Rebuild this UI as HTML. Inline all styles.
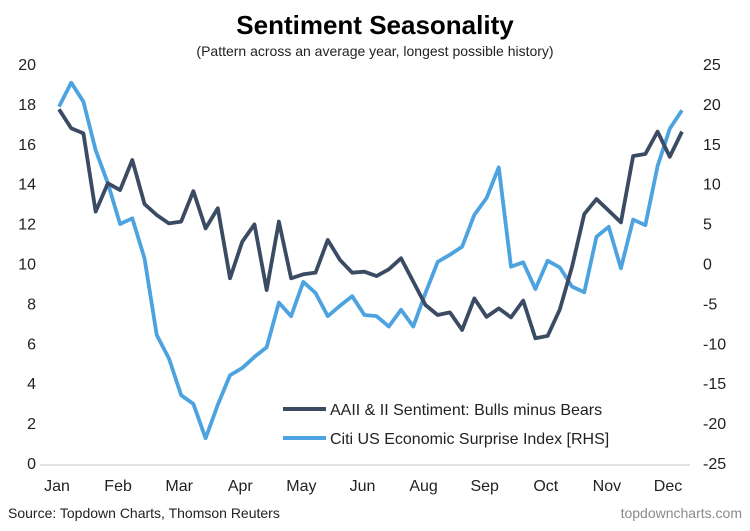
<!DOCTYPE html>
<html><head><meta charset="utf-8"><style>
body{margin:0;background:#fff;width:750px;height:531px;overflow:hidden}
svg{display:block;font-family:"Liberation Sans",Arial,sans-serif}
</style></head><body>
<svg id="chart" width="750" height="531">
<text x="375" y="34" text-anchor="middle" font-size="26" font-weight="bold" fill="#000">Sentiment Seasonality</text>
<text x="375" y="56" text-anchor="middle" font-size="14" fill="#222">(Pattern across an average year, longest possible history)</text>
<line x1="40" y1="465" x2="690" y2="465" stroke="#d9d9d9" stroke-width="1.5"/>
<g id="leftTicks"></g><g id="rightTicks"></g><g id="xTicks"></g><g id="series"></g>
<line x1="283" y1="409" x2="326" y2="409" stroke="#3a4b63" stroke-width="4"/>
<text x="330" y="415" font-size="16" fill="#222">AAII &amp; II Sentiment: Bulls minus Bears</text>
<line x1="283" y1="438" x2="326" y2="438" stroke="#4da3e0" stroke-width="4"/>
<text x="330" y="444" font-size="16" fill="#222">Citi US Economic Surprise Index [RHS]</text>
<text x="8" y="518" font-size="14" fill="#222">Source: Topdown Charts, Thomson Reuters</text>
<text x="742" y="518" text-anchor="end" font-size="14" fill="#8a8a8a">topdowncharts.com</text>
</svg>
<script>
const monthLabels=["Jan","Feb","Mar","Apr","May","Jun","Aug","Sep","Oct","Nov","Dec"];
const leftTicks=[0,2,4,6,8,10,12,14,16,18,20];
const rightTicks=[-25,-20,-15,-10,-5,0,5,10,15,20,25];
const aaii=[17.73,16.78,16.52,12.6,14.02,13.68,15.19,12.98,12.43,12.01,12.1,13.63,11.76,12.77,9.26,11.09,11.96,8.67,12.1,9.26,9.46,9.54,11.18,10.18,9.54,9.59,9.37,9.71,10.26,9.09,7.92,7.42,7.55,6.67,8.25,7.33,7.75,7.3,8.14,6.25,6.37,7.7,9.84,12.48,13.23,12.65,12.06,15.39,15.49,16.61,15.35,16.61];
const citi=[19.65,22.66,20.28,14.2,10.05,4.95,5.66,0.65,-8.96,-11.9,-16.5,-17.6,-21.9,-17.7,-14,-13.1,-11.7,-10.5,-4.9,-6.6,-2.3,-3.7,-6.6,-5.3,-4.1,-6.45,-6.6,-7.9,-5.8,-7.9,-3.7,0.2,1.1,2.1,6.1,8.2,12.05,-0.4,0.15,-3.2,0.35,-0.5,-2.9,-3.6,3.35,4.6,-0.6,5.5,4.8,12.2,16.9,19.2];
const NS="http://www.w3.org/2000/svg";
const x0=59,x1=682,yTop=64,yBot=463;
const xs=i=>x0+(x1-x0)*i/(aaii.length-1);
const yL=v=>yBot-(v/20)*(yBot-yTop);
const yR=v=>yBot-((v+25)/50)*(yBot-yTop);
const mLabelX=i=>57+(668-57)*i/(monthLabels.length-1);
function mk(tag,attrs,parent,txt){const e=document.createElementNS(NS,tag);for(const k in attrs)e.setAttribute(k,attrs[k]);if(txt!==undefined)e.textContent=txt;parent.appendChild(e);return e;}
const gl=document.getElementById('leftTicks');
leftTicks.forEach(v=>{const t=mk('text',{x:36,y:yL(v)+6,'text-anchor':'end','font-size':16,fill:'#222'},gl,String(v));

});
const gr=document.getElementById('rightTicks');
rightTicks.forEach(v=>{const t=mk('text',{x:703,y:yR(v)+6,'text-anchor':'start','font-size':16,fill:'#222'},gr,String(v));

});
const gx=document.getElementById('xTicks');
monthLabels.forEach((m,i)=>{const t=mk('text',{x:mLabelX(i),y:491,'text-anchor':'middle','font-size':16,fill:'#222'},gx,m);

});
const gs=document.getElementById('series');
const p1=mk('polyline',{points:citi.map((v,i)=>xs(i)+','+yR(v)).join(' '),fill:'none',stroke:'#4da3e0','stroke-width':3.8,'stroke-linejoin':'round'},gs);


const p2=mk('polyline',{points:aaii.map((v,i)=>xs(i)+','+yL(v)).join(' '),fill:'none',stroke:'#3a4b63','stroke-width':3.8,'stroke-linejoin':'round'},gs);


</script>
</body></html>
